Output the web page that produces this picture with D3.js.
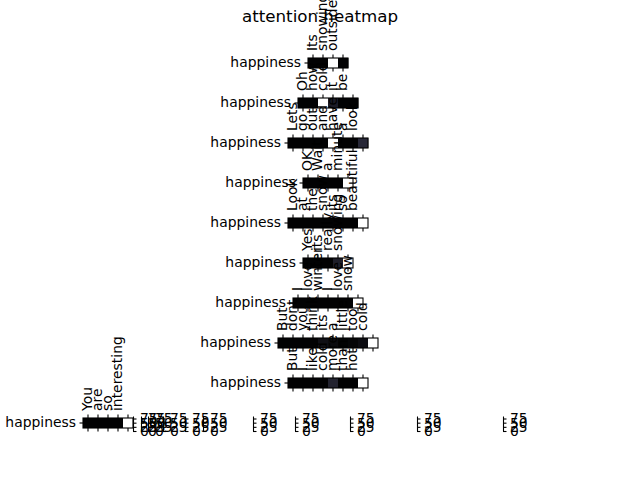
<!DOCTYPE html>
<html>
<head>
<meta charset="utf-8">
<script src="https://cdn.jsdelivr.net/npm/d3@7"></script>
<style>
  html, body { margin: 0; padding: 0; background: #ffffff; }
  svg { display: block; }
</style>
</head>
<body>
<script>
// ---- data ----
const chartTitle = "attention heatmap";
const rowLabel = "happiness";
const tokens = [
  ["Its", "snowing", "outside", ""],
  ["Oh", "how", "cold", "it", "be", ""],
  ["Lets", "go", "out", "and", "have", "a", "look", ""],
  ["OK", "Wait", "a", "minute", ""],
  ["Look", "at", "the", "snow", "its", "so", "beautiful", ""],
  ["Yes", "its", "really", "snowing", ""],
  ["I", "love", "winter", "I", "love", "snow", ""],
  ["But", "dont", "you", "think", "its", "a", "little", "too", "cold", ""],
  ["But", "I", "like", "cold", "more", "than", "hot", ""],
  ["You", "are", "so", "interesting", ""]
];
const attention = [
  [1, 1, 90, 1],
  [1, 1, 90, 11, 1, 1],
  [1, 1, 1, 1, 90, 1, 1, 16],
  [1, 1, 1, 1, 90],
  [1, 1, 1, 1, 1, 1, 1, 90],
  [1, 1, 1, 12, 90],
  [1, 1, 1, 1, 1, 1, 90],
  [1, 1, 1, 1, 6, 4, 1, 2, 5, 90],
  [1, 1, 1, 1, 14, 1, 1, 90],
  [1, 1, 1, 1, 90]
];
const colorDomain = [0, 90];
const cbTicks = [0, 25, 50, 75];

// ---- layout (not data) ----
const W = 640, H = 480;
const FONT = "DejaVu Sans, sans-serif";
const FS = "13.9px";
const cell = 10;
const colorbarX = [133, 141, 148, 163, 185, 203, 253, 295, 350, 417, 503];

const svg = d3.select("body").append("svg").attr("width", W).attr("height", H);
svg.append("rect").attr("width", W).attr("height", H).attr("fill", "#fff");

// matplotlib "bone" colormap
const vmax = colorDomain[1];
const color = d3.scaleLinear()
  .domain([0, 0.365079, 0.746032, 1].map(t => colorDomain[0] + t * (vmax - colorDomain[0])))
  .range(["#000000", "#515171", "#a6c6c6", "#ffffff"])
  .clamp(true);

svg.append("text")
  .attr("x", 320).attr("y", 21.5)
  .attr("text-anchor", "middle")
  .attr("font-family", FONT).attr("font-size", "16.7px")
  .attr("fill", "#000")
  .text(chartTitle);

function styleAxis(g) {
  g.attr("font-family", FONT).attr("font-size", FS);
  g.selectAll("line").attr("stroke", "#000").attr("stroke-width", 1.1);
  g.selectAll("text").attr("fill", "#000");
}

tokens.forEach((toks, i) => {
  const n = toks.length;
  const left = i === tokens.length - 1 ? 83 : 328 - n * cell / 2;
  const cy = 63 + 40 * i;
  const x = d3.scaleBand().domain(d3.range(n)).range([left, left + n * cell]);
  const y = d3.scaleBand().domain([rowLabel]).range([cy - cell / 2, cy + cell / 2]);

  const g = svg.append("g");
  g.selectAll("rect.cell")
    .data(attention[i])
    .join("rect")
    .attr("class", "cell")
    .attr("x", (d, j) => x(j))
    .attr("y", y(rowLabel))
    .attr("width", x.bandwidth() + 0.3)
    .attr("height", y.bandwidth())
    .attr("fill", d => color(d));

  g.append("rect")
    .attr("x", x.range()[0]).attr("y", y.range()[0])
    .attr("width", x.range()[1] - x.range()[0])
    .attr("height", y.range()[1] - y.range()[0])
    .attr("fill", "none").attr("stroke", "#000").attr("stroke-width", 1.1);

  // top axis with rotated word labels
  const top = g.append("g").attr("transform", `translate(0,${y.range()[0]})`)
    .call(d3.axisTop(x).tickSize(3.5).tickPadding(3.5).tickSizeOuter(0)
      .tickFormat(j => toks[j]));
  top.select(".domain").remove();
  styleAxis(top);
  top.selectAll("text")
    .attr("transform", "rotate(-90)")
    .attr("x", 7).attr("y", 0).attr("dy", "0.32em")
    .attr("text-anchor", "start");

  // bottom ticks
  const bot = g.append("g").attr("transform", `translate(0,${y.range()[1]})`)
    .call(d3.axisBottom(x).tickSize(3.5).tickSizeOuter(0).tickFormat(""));
  bot.select(".domain").remove();
  styleAxis(bot);

  // left axis
  const la = g.append("g").attr("transform", `translate(${left},0)`)
    .call(d3.axisLeft(y).tickSize(3.5).tickPadding(3.5).tickSizeOuter(0));
  la.select(".domain").remove();
  styleAxis(la);
  la.selectAll("text").attr("dy", "0.32em");
});

// squashed colorbars
const yCb = d3.scaleLinear().domain(colorDomain).range([431, 416]);
colorbarX.forEach(cx => {
  const cb = svg.append("g").attr("transform", `translate(${cx},0)`)
    .call(d3.axisRight(yCb).tickValues(cbTicks).tickSize(3.5).tickPadding(3.5).tickSizeOuter(0));
  styleAxis(cb);
  cb.select(".domain").attr("stroke", "#000").attr("stroke-width", 1.1);
});
</script>
</body>
</html>
